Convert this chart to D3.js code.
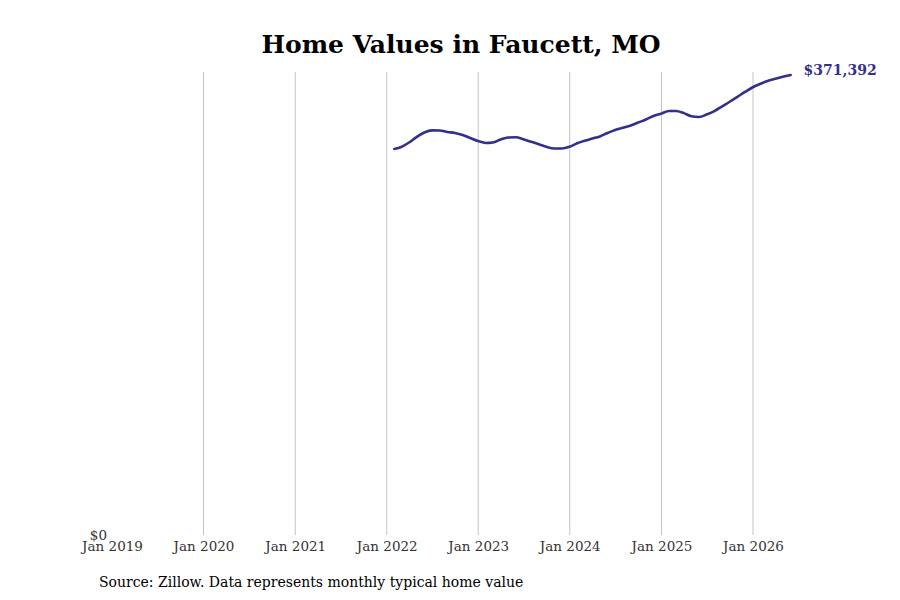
<!DOCTYPE html>
<html>
<head>
<meta charset="utf-8">
<script src="https://cdn.jsdelivr.net/npm/d3@7"></script>
<style>
  body { margin: 0; background: #fff; }
  svg { font-family: "DejaVu Serif", serif; }
</style>
</head>
<body>
<svg id="chart"></svg>
<script>
// 1) Data ------------------------------------------------------------
const startMonth = '2022-01';
const homeValues = [
  311700, 313300, 316900, 321300, 325000, 326700, 326600, 325400, 324600, 323000,
  320500, 318100, 316500, 316900, 319300, 320900, 321100, 319500, 317500, 315500,
  313400, 312100, 312100, 313500, 316300, 318300, 320100, 321800, 324600, 327000,
  328800, 330600, 333000, 335500, 338300, 340200, 342300, 342300, 340600, 338100,
  337500, 339500, 342300, 346100, 349800, 353800, 357700, 361500, 364300, 366600,
  368300, 370000, 371392
];
const xTickYears = [2019, 2020, 2021, 2022, 2023, 2024, 2025, 2026];

// 2) Dimensions ------------------------------------------------------
const width = 900;
const height = 600;
const margin = { top: 72, left: 112, bottom: 65 };
const lineColor = '#332f8d';

const svg = d3.select('#chart')
  .attr('width', width)
  .attr('height', height);

// month-end dates, like Zillow
const parseMonth = d3.timeParse('%Y-%m');
const first = parseMonth(startMonth);
const series = homeValues.map((v, i) => ({
  date: d3.timeDay.offset(d3.timeMonth.offset(first, i + 1), -1),
  value: v
}));

// 3) Scales ----------------------------------------------------------
const x = d3.scaleTime()
  .domain([new Date(2019, 0, 1), new Date(2026, 0, 1)])
  .range([margin.left, 753]);

const yMax = d3.max(homeValues);
const y = d3.scaleLinear()
  .domain([0, yMax])
  .range([height - margin.bottom, 75]);

// 4) Grid + axes -----------------------------------------------------
const tickDates = xTickYears.map(yr => new Date(yr, 0, 1));

svg.append('g')
  .selectAll('line')
  .data(tickDates.slice(1))
  .enter().append('line')
  .attr('x1', d => x(d))
  .attr('x2', d => x(d))
  .attr('y1', margin.top)
  .attr('y2', height - margin.bottom)
  .attr('stroke', '#c4c4c4')
  .attr('stroke-width', 1);

const xAxis = svg.append('g')
  .attr('transform', `translate(0,${height - margin.bottom})`)
  .call(d3.axisBottom(x)
    .tickValues(tickDates)
    .tickSize(0)
    .tickPadding(6)
    .tickFormat(d3.timeFormat('Jan %Y')));
xAxis.select('.domain').remove();
xAxis.selectAll('text')
  .attr('font-family', '"DejaVu Serif", serif')
  .attr('font-size', 13.5)
  .attr('fill', '#333');

const yAxis = svg.append('g')
  .attr('transform', `translate(${margin.left},0)`)
  .call(d3.axisLeft(y)
    .tickValues([0])
    .tickSize(0)
    .tickPadding(5)
    .tickFormat(d3.format('$,.0f')));
yAxis.select('.domain').remove();
yAxis.selectAll('text')
  .attr('font-family', '"DejaVu Serif", serif')
  .attr('font-size', 13.5)
  .attr('fill', '#333');

// 5) Line ------------------------------------------------------------
const line = d3.line()
  .x(d => x(d.date))
  .y(d => y(d.value))
  .curve(d3.curveMonotoneX);

svg.append('path')
  .datum(series)
  .attr('d', line)
  .attr('fill', 'none')
  .attr('stroke', lineColor)
  .attr('stroke-width', 2.6)
  .attr('stroke-linecap', 'round');

// end label
const last = series[series.length - 1];
svg.append('text')
  .attr('x', x(last.date) + 13)
  .attr('y', y(last.value))
  .attr('font-size', 14)
  .attr('font-weight', 'bold')
  .attr('fill', lineColor)
  .text(d3.format('$,.0f')(last.value));

// 6) Title + source --------------------------------------------------
svg.append('text')
  .attr('x', 461)
  .attr('y', 53)
  .attr('text-anchor', 'middle')
  .attr('font-size', 25)
  .attr('font-weight', 'bold')
  .attr('fill', '#000')
  .text('Home Values in Faucett, MO');

svg.append('text')
  .attr('x', 99)
  .attr('y', 587)
  .attr('font-size', 14)
  .attr('fill', '#000')
  .text('Source: Zillow. Data represents monthly typical home value');
</script>
</body>
</html>
